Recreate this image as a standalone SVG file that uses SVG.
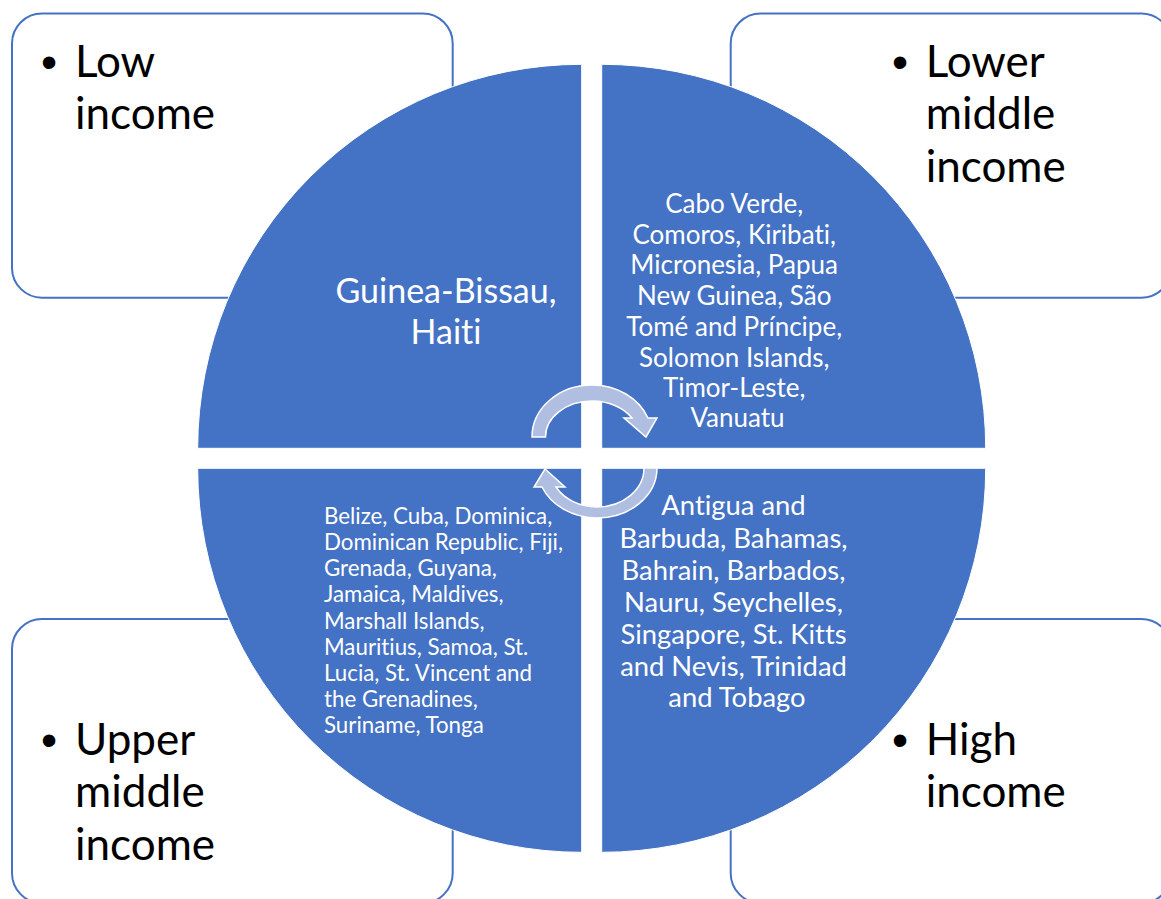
<svg xmlns="http://www.w3.org/2000/svg" width="1161" height="899" viewBox="0 0 1161 899">
<style>
text{font-variant-ligatures:none;font-feature-settings:"liga" 0,"clig" 0}
.box{fill:#fff;stroke:#4472C4;stroke-width:2}
.q{fill:#4472C4;stroke:#fff;stroke-width:1}
.lbl{font-family:Lato,"Liberation Sans",sans-serif;font-size:44px;fill:#000}
.bul{font-family:"Liberation Sans",sans-serif;font-size:46px;fill:#000}
.wt{font-family:Lato,"Liberation Sans",sans-serif;fill:#fff}
.arr{fill:#B0BFE1;stroke:#fff;stroke-width:1.5}
</style>
<rect width="1161" height="899" fill="#fff"/>
<g id="box-low">
<rect class="box" x="12" y="13.5" width="440.7" height="284.2" rx="30"/>
<text class="bul" x="49" y="78" text-anchor="middle">•</text>
<text class="lbl" x="75" y="77.3">Low</text>
<text class="lbl" x="75" y="129.3">income</text>
</g>
<g id="box-lower-middle">
<rect class="box" x="730.7" y="13.5" width="440.7" height="284.2" rx="30"/>
<text class="bul" x="900" y="78" text-anchor="middle">•</text>
<text class="lbl" x="925.7" y="77.3">Lower</text>
<text class="lbl" x="925.7" y="129.3">middle</text>
<text class="lbl" x="925.7" y="181.7">income</text>
</g>
<g id="box-upper-middle">
<rect class="box" x="12" y="619" width="440.7" height="284.2" rx="30"/>
<text class="bul" x="49" y="756" text-anchor="middle">•</text>
<text class="lbl" x="75" y="755">Upper</text>
<text class="lbl" x="75" y="806.7">middle</text>
<text class="lbl" x="75" y="860">income</text>
</g>
<g id="box-high">
<rect class="box" x="730.7" y="619" width="440.7" height="284.2" rx="30"/>
<text class="bul" x="900" y="756" text-anchor="middle">•</text>
<text class="lbl" x="925.7" y="755">High</text>
<text class="lbl" x="925.7" y="806.7">income</text>
</g>
<g id="quad-low">
<path class="q" d="M581.7,448.3 H197.7 A384,384 0 0 1 581.7,64.3 Z"/>
<text class="wt" font-size="34" text-anchor="middle"><tspan x="446" y="303.3">Guinea-Bissau,</tspan><tspan x="446" y="344">Haiti</tspan></text>
</g>
<g id="quad-lower-middle">
<path class="q" d="M601.7,448.3 V64.3 A384,384 0 0 1 985.7,448.3 Z"/>
<text class="wt" font-size="26" text-anchor="middle">
<tspan x="737.5" y="213.3">Cabo Verde,</tspan>
<tspan x="737.5" y="244">Comoros, Kiribati,</tspan>
<tspan x="737.5" y="274.3">Micronesia, Papua</tspan>
<tspan x="737.5" y="305">New Guinea, São</tspan>
<tspan x="737.5" y="335.7">Tomé and Príncipe,</tspan>
<tspan x="737.5" y="366.7">Solomon Islands,</tspan>
<tspan x="737.5" y="397">Timor-Leste,</tspan>
<tspan x="737.5" y="426.7">Vanuatu</tspan>
</text>
</g>
<g id="quad-upper-middle">
<path class="q" d="M581.7,468.3 V852.3 A384,384 0 0 1 197.7,468.3 Z"/>
<text class="wt" font-size="22.3">
<tspan x="324" y="524.3">Belize, Cuba, Dominica,</tspan>
<tspan x="324" y="550.3">Dominican Republic, Fiji,</tspan>
<tspan x="324" y="576.3">Grenada, Guyana,</tspan>
<tspan x="324" y="602.4">Jamaica, Maldives,</tspan>
<tspan x="324" y="628.5">Marshall Islands,</tspan>
<tspan x="324" y="654.6">Mauritius, Samoa, St.</tspan>
<tspan x="324" y="680.8">Lucia, St. Vincent and</tspan>
<tspan x="324" y="707">the Grenadines,</tspan>
<tspan x="324" y="733.2">Suriname, Tonga</tspan>
</text>
</g>
<g id="quad-high">
<path class="q" d="M601.7,468.3 H985.7 A384,384 0 0 1 601.7,852.3 Z"/>
<text class="wt" font-size="27.4" text-anchor="middle">
<tspan x="737" y="515">Antigua and</tspan>
<tspan x="737" y="547.5">Barbuda, Bahamas,</tspan>
<tspan x="737" y="579.5">Bahrain, Barbados,</tspan>
<tspan x="737" y="612">Nauru, Seychelles,</tspan>
<tspan x="737" y="644">Singapore, St. Kitts</tspan>
<tspan x="737" y="675.7">and Nevis, Trinidad</tspan>
<tspan x="737" y="707">and Tobago</tspan>
</text>
</g>
<g id="connectors">
<path class="arr" d="M532,437 A60,52 0 0 1 592,385 A60,52 0 0 1 648,418 L657,418 L646,437 L624,418 L632,418 A46.5,36 0 0 0 592,401 A46.5,36 0 0 0 545.5,437 Z"/>
<path class="arr" d="M657,468 A60,50 0 0 1 597,518 A60,50 0 0 1 542,487 L534,487 L545,469 L565,487 L556,487 A47,39 0 0 0 597,507 A47,39 0 0 0 644,468 Z"/>
</g>
</svg>
